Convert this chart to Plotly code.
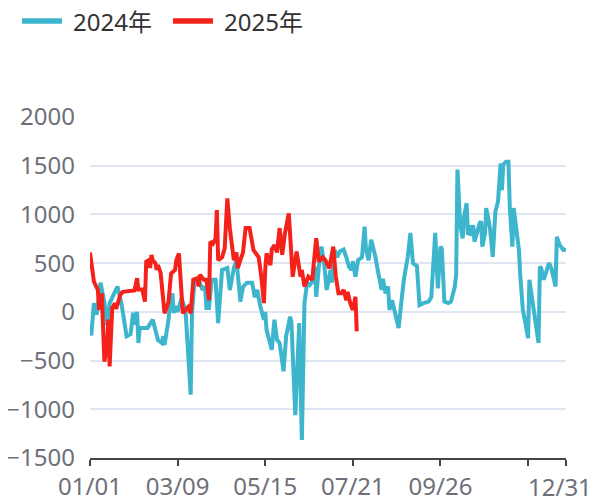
import plotly.graph_objects as go

# 2024 series (MM/DD, value)
dates_2024 = [
    "01/01", "01/02", "01/04", "01/06", "01/07", "01/09", "01/12", "01/14", "01/16", "01/19",
    "01/22", "01/25", "01/26", "01/29", "02/01", "02/03", "02/04", "02/06", "02/07", "02/08",
    "02/14", "02/18", "02/22", "02/25", "02/26", "02/27", "03/02", "03/03", "03/05", "03/06",
    "03/08", "03/09", "03/12", "03/15", "03/19", "03/20", "03/22", "03/25", "03/26", "03/28",
    "03/30", "03/31", "04/02", "04/04", "04/07", "04/09", "04/12", "04/16", "04/18", "04/21",
    "04/23", "04/26", "04/28", "05/01", "05/05", "05/07", "05/09", "05/11", "05/14", "05/15",
    "05/16", "05/19", "05/20", "05/22", "05/24", "05/26", "05/29", "05/31", "06/03", "06/04",
    "06/07", "06/10", "06/12", "06/14", "06/16", "06/18", "06/21", "06/22", "06/23", "06/25",
    "06/27", "06/29", "07/01", "07/04", "07/05", "07/07", "07/09", "07/11", "07/14", "07/16",
    "07/18", "07/20", "07/21", "07/23", "07/25", "07/28", "07/30", "07/31", "08/02", "08/04",
    "08/07", "08/09", "08/12", "08/13", "08/15", "08/17", "08/18", "08/20", "08/22", "08/24",
    "08/25", "08/27", "08/29", "09/01", "09/03", "09/05", "09/08", "09/10", "09/13", "09/17",
    "09/19", "09/22", "09/24", "09/26", "09/27", "09/29", "10/02", "10/04", "10/07", "10/08",
    "10/09", "10/11", "10/13", "10/14", "10/16", "10/17", "10/18", "10/19", "10/21", "10/22",
    "10/24", "10/26", "10/27", "10/28", "10/30", "10/31", "11/02", "11/03", "11/05", "11/07",
    "11/09", "11/11", "11/12", "11/13", "11/15", "11/17", "11/18", "11/19", "11/20", "11/21",
    "11/23", "11/25", "11/26", "11/28", "11/30", "12/02", "12/03", "12/06", "12/07", "12/10",
    "12/11", "12/12", "12/14", "12/16", "12/18", "12/20", "12/23", "12/24", "12/26", "12/29",
    "12/31",
]
values_2024 = [
    -180, -240, 90, -30, 60, 300, 100, -135, 90, 175,
    260, 90, -10, -250, -230, -10, -130, 0, -320, -165,
    -165, -80, -290, -320, -250, -340, -85, 55, 190, -10,
    60, 0, 140, 20, -850, -10, 330, 330, 300, 225,
    260, 40, 40, 330, 330, -115, 430, 450, 225, 450,
    530, 105, 255, 300, 300, 150, 225, 70, -80, 0,
    -185, -370, -390, -80, -285, -320, -610, -250, -50, -100,
    -1060, -115, -1315, 90, 300, 275, 330, 465, 155, 465,
    670, 500, 225, 430, 300, 635, 560, 620, 640, 560,
    465, 430, 520, 360, 530, 560, 875, 650, 530, 740,
    580, 430, 225, 340, 190, 260, 20, 120, 20, -80,
    -165, 90, 330, 565, 810, 500, 470, 70, 90, 105,
    150, 810, 240, 670, 650, 105, 90, 105, 260, 380,
    1460, 910, 755, 975, 1115, 790, 890, 780, 890, 720,
    820, 910, 930, 670, 800, 1065, 930, 840, 565, 1030,
    1130, 1525, 1250, 1510, 1540, 1540, 1080, 840, 670, 1065,
    880, 635, 380, 20, -115, -270, 330, 55, 0, -320,
    465, 450, 330, 430, 500, 440, 260, 770, 690, 635,
    640,
]

# 2025 series (MM/DD, value)
dates_2025 = [
    "01/01", "01/03", "01/04", "01/07", "01/08", "01/10", "01/11", "01/12", "01/14", "01/15",
    "01/16", "01/18", "01/20", "01/21", "01/23", "01/24", "01/26", "02/01", "02/04", "02/06",
    "02/07", "02/10", "02/12", "02/13", "02/15", "02/16", "02/17", "02/18", "02/20", "02/21",
    "02/22", "02/24", "02/25", "02/27", "03/02", "03/04", "03/07", "03/08", "03/10", "03/11",
    "03/12", "03/13", "03/15", "03/17", "03/19", "03/21", "03/24", "03/25", "03/26", "03/29",
    "03/31", "04/02", "04/03", "04/05", "04/07", "04/08", "04/09", "04/12", "04/14", "04/16",
    "04/18", "04/21", "04/23", "04/24", "04/26", "04/28", "04/30", "05/03", "05/06", "05/10",
    "05/12", "05/14", "05/15", "05/16", "05/19", "05/20", "05/22", "05/24", "05/26", "05/28",
    "05/30", "06/02", "06/04", "06/05", "06/08", "06/11", "06/12", "06/14", "06/17", "06/20",
    "06/21", "06/23", "06/25", "06/28", "06/30", "07/03", "07/06", "07/08", "07/10", "07/12",
    "07/14", "07/16", "07/17", "07/19", "07/21", "07/23", "07/24",
]
values_2025 = [
    610, 395, 310, 225, 20, 190, -80, -510, -355, -80,
    -560, 40, 90, 30, 120, 170, 205, 220, 220, 345,
    230, 230, 105, 515, 530, 450, 585, 530, 500, 430,
    480, 400, 230, -15, 100, 395, 430, 530, 600, 330,
    225, -15, 20, 50, -15, 330, 345, 260, 380, 330,
    330, 120, 720, 700, 750, 1045, 530, 560, 650, 1165,
    850, 530, 610, 450, 530, 610, 860, 860, 635, 560,
    360, 90, 430, 600, 480, 640, 685, 610, 860, 585,
    800, 1010, 585, 360, 620, 360, 430, 260, 360, 330,
    480, 755, 515, 560, 530, 445, 670, 360, 190, 190,
    225, 120, 205, 90, 20, 155, -200,
]

x_ticks = ["01/01", "03/09", "05/15", "07/21", "09/26", "12/02", "12/31"]
x_tick_labels = ["01/01", "03/09", "05/15", "07/21", "09/26", "", ""]
last_tick_label = "12/31"  # drawn separately, nudged inside the page like ECharts does

FONT = "Noto Sans, Noto Sans CJK SC, sans-serif"
TEAL = "#3db5cc"
RED = "#f5221b"

# the page body adds an 8px margin on the top/left, so the figure is 8px
# smaller and the left/top margins are pulled in by 8px
OFF = 8
W, H = 596 - OFF, 502 - OFF
L, R, T, B = 90 - OFF, 30, 117 - OFF, 44
PW, PH = W - L - R, H - T - B


def to_day(md):
    # plot both years on one shared (non-leap) calendar
    return "2025-" + md.replace("/", "-")


def px_x(x):
    # window pixel -> paper fraction
    return (x - OFF - L) / PW


def px_y(y):
    return (T + PH - (y - OFF)) / PH


fig = go.Figure()
fig.add_trace(go.Scatter(
    x=[to_day(d) for d in dates_2024], y=values_2024, name="2024年",
    mode="lines", line=dict(color=TEAL, width=4),
))
fig.add_trace(go.Scatter(
    x=[to_day(d) for d in dates_2025], y=values_2025, name="2025年",
    mode="lines", line=dict(color=RED, width=4),
))

# legend: ECharts-style 40px line swatches
for x0, color, label in [(22, TEAL, "2024年"), (173, RED, "2025年")]:
    fig.add_shape(
        type="line", xref="paper", yref="paper",
        x0=px_x(x0), x1=px_x(x0 + 40), y0=px_y(21), y1=px_y(21),
        line=dict(color=color, width=5.5),
    )
    fig.add_annotation(
        xref="paper", yref="paper", x=px_x(x0 + 49), y=px_y(21),
        xanchor="left", yanchor="middle", showarrow=False, text=label,
        font=dict(size=24, color="#333333"),
    )

fig.add_annotation(
    xref="paper", yref="paper", x=px_x(593), y=px_y(486),
    xanchor="right", yanchor="middle", showarrow=False, text=last_tick_label,
    font=dict(size=24, color="#6e7079"), borderpad=0,
)

fig.update_layout(
    width=W, height=H,
    margin=dict(l=L, r=R, t=T, b=B, autoexpand=False),
    paper_bgcolor="white", plot_bgcolor="white",
    font=dict(family=FONT, size=24, color="#6e7079"),
    showlegend=False,
)
fig.update_xaxes(
    type="date",
    range=[to_day("01/01"), to_day("12/31")],
    tickvals=[to_day(d) for d in x_ticks], ticktext=x_tick_labels,
    showgrid=False, showline=True, linecolor="#444444", linewidth=1.5,
    ticks="outside", ticklen=6, tickcolor="#444444", tickwidth=1.5,
    ticklabeloverflow="allow",
    tickfont=dict(size=24, color="#6e7079"),
)
fig.update_yaxes(
    range=[-1500, 2000], dtick=500, tick0=0,
    showgrid=True, gridcolor="#e0e6f1", gridwidth=1.5,
    zeroline=False, showline=False, ticks="",
    ticklabelstandoff=14, ticklabeloverflow="allow",
    tickfont=dict(size=24, color="#6e7079"),
)

fig.write_html("out.html")
